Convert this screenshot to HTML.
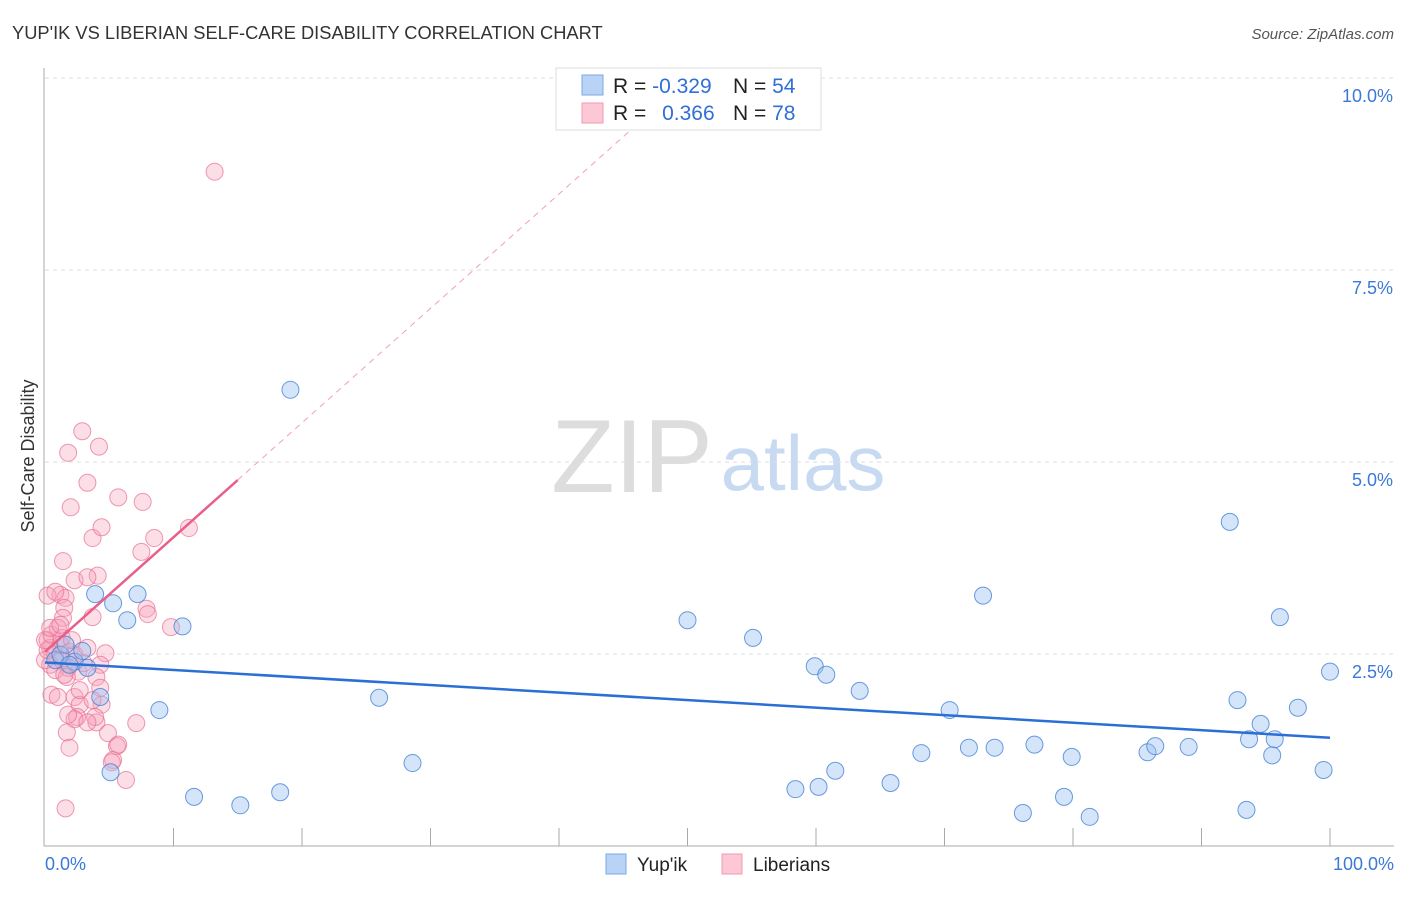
<!DOCTYPE html>
<html><head><meta charset="utf-8"><style>
body{margin:0;background:#fff;font-family:"Liberation Sans",sans-serif;}
svg text{font-family:"Liberation Sans",sans-serif;}
</style></head><body>
<svg id="chart" width="1406" height="892" xmlns="http://www.w3.org/2000/svg">
<text x="12" y="39" font-size="18.3" fill="#333">YUP'IK VS LIBERIAN SELF-CARE DISABILITY CORRELATION CHART</text>
<text x="1394" y="39" font-size="15" fill="#555" font-style="italic" text-anchor="end">Source: ZipAtlas.com</text>
<text x="0" y="0" transform="translate(34,456) rotate(-90)" font-size="18" fill="#333" text-anchor="middle">Self-Care Disability</text>
<g>
<text x="632" y="492" font-size="104" font-family="Liberation Serif,serif" fill="#ddd" text-anchor="middle">ZIP</text>
<text x="803" y="490" font-size="78" fill="#c8daf2" text-anchor="middle">atlas</text>
</g>
<g id="grid"></g>
<g id="axes"></g>
<g id="pts"></g>
<g id="trend"></g>
<g>
<rect x="556" y="68" width="265" height="62" fill="#fff" stroke="#ddd"/>
<rect x="582" y="75" width="21" height="20" fill="#b8d3f5" stroke="#7aa8e6"/>
<rect x="582" y="103" width="21" height="20" fill="#fcc8d6" stroke="#ef9ab2"/>
<text x="613" y="93" font-size="21" fill="#222">R = <tspan fill="#2f6fd6">-0.329</tspan></text>
<text x="733" y="93" font-size="21" fill="#222">N = <tspan fill="#2f6fd6">54</tspan></text>
<text x="613" y="120" font-size="21" fill="#222">R = <tspan fill="#2f6fd6" dx="10">0.366</tspan></text>
<text x="733" y="120" font-size="21" fill="#222">N = <tspan fill="#2f6fd6">78</tspan></text>
</g>
<g>
<rect x="606" y="854" width="20" height="20" fill="#b8d3f5" stroke="#7aa8e6"/>
<text x="637" y="871" font-size="19" fill="#222">Yup'ik</text>
<rect x="722" y="854" width="20" height="20" fill="#fcc8d6" stroke="#ef9ab2"/>
<text x="753" y="871" font-size="19" fill="#222">Liberians</text>
</g>
</svg>
<script>
const yupikX=[19.1,3.9,5.3,6.4,7.2,10.7,2.3,2.9,3.3,4.3,8.9,5.1,11.6,15.2,18.3,26.0,28.6,50.0,55.1,59.9,60.8,63.4,70.4,73.0,68.2,71.9,73.9,77.0,79.9,61.5,58.4,60.2,65.8,76.1,79.3,81.3,85.8,86.4,89.0,92.2,92.8,94.6,96.1,95.7,93.7,95.5,97.5,100,99.5,93.5,0.8,1.2,1.6,1.9];
const yupikY=[5.94,3.28,3.16,2.94,3.28,2.86,2.40,2.54,2.32,1.94,1.77,0.96,0.64,0.53,0.70,1.93,1.08,2.94,2.71,2.34,2.23,2.02,1.77,3.26,1.21,1.28,1.28,1.32,1.16,0.98,0.74,0.77,0.82,0.43,0.64,0.38,1.22,1.30,1.29,4.22,1.90,1.59,2.98,1.39,1.39,1.18,1.80,2.27,0.99,0.47,2.42,2.49,2.62,2.36];
const libX=[2.9,1.8,4.2,3.3,2.0,5.7,7.6,3.7,4.4,8.5,7.5,1.4,2.3,4.1,3.3,1.2,1.6,1.5,1.4,3.7,7.9,8.0,9.8,11.2,13.2,0.2,0.8,0.2,0.4,0.8,1.2,1.3,1.9,2.3,4.7,0.4,0.8,1.3,1.8,2.6,4.3,0.5,1.0,2.3,1.7,4.0,4.3,2.7,4.4,2.5,2.3,4.0,3.9,1.7,3.3,4.9,5.6,1.9,5.3,5.2,6.3,1.6,7.1,0.0,0.2,0.5,1.0,3.3,2.1,3.0,3.7,1.5,2.7,1.8,5.7,0.0,0.4,1.2];
const libY=[5.40,5.12,5.20,4.73,4.41,4.54,4.48,4.01,4.15,4.01,3.83,3.71,3.46,3.52,3.50,3.27,3.23,3.10,2.97,2.98,3.09,3.02,2.85,4.14,8.78,3.26,3.31,2.68,2.58,2.49,2.62,2.71,2.53,2.49,2.51,2.36,2.29,2.42,2.32,2.27,2.36,1.97,1.94,1.94,2.20,2.20,2.06,1.84,1.84,1.68,1.65,1.61,1.68,1.48,1.61,1.47,1.30,1.28,1.12,1.09,0.86,0.49,1.60,2.42,2.55,2.75,2.84,2.58,2.68,2.38,1.90,2.23,2.03,1.71,1.32,2.68,2.84,2.88];
const yTicks=[2.5,5.0,7.5,10.0];
const yTickLabels=["2.5%","5.0%","7.5%","10.0%"];
const xTickLabels=["0.0%","100.0%"];
const blueTrend=[2.39,1.41];
const pinkTrend=[2.53,0.149];
const NS="http://www.w3.org/2000/svg";
const sx=v=>45+v*12.85, sy=v=>846-v*76.8;
function mk(tag,attrs,parent){const e=document.createElementNS(NS,tag);for(const k in attrs)e.setAttribute(k,attrs[k]);document.getElementById(parent).appendChild(e);return e;}
yTicks.forEach((t,i)=>{
 const l=mk('line',{x1:45,x2:1394,y1:sy(t),y2:sy(t),stroke:'#ddd','stroke-dasharray':'4,4'},'grid');
 
 
 const tx=mk('text',{x:1393,y:sy(t)+24,'font-size':18,fill:'#3b78d8','text-anchor':'end'},'grid');
 tx.textContent=yTickLabels[i];
 
 
});
let a=mk('line',{x1:44,x2:44,y1:68,y2:846,stroke:'#aaa'},'axes');


a=mk('line',{x1:44,x2:1394,y1:846,y2:846,stroke:'#aaa'},'axes');


for(let i=1;i<=10;i++){const t=mk('line',{x1:sx(i*10),x2:sx(i*10),y1:828,y2:846,stroke:'#aaa'},'axes');
 
 }
[[0,'start',45],[100,'end',1394]].forEach((d,i)=>{const t=mk('text',{x:d[2],y:870,'font-size':18,fill:'#3b78d8','text-anchor':d[1]},'axes');t.textContent=xTickLabels[i];
 
 });
libX.forEach((x,i)=>{const c=mk('circle',{cx:sx(x),cy:sy(libY[i]),r:8.5,fill:'rgba(247,160,185,0.35)',stroke:'rgba(232,110,145,0.7)','stroke-width':1},'pts');
 
 });
yupikX.forEach((x,i)=>{const c=mk('circle',{cx:sx(x),cy:sy(yupikY[i]),r:8.5,fill:'rgba(150,190,240,0.4)',stroke:'rgba(70,130,215,0.8)','stroke-width':1},'pts');
 
 });
let t=mk('line',{x1:sx(0),y1:sy(blueTrend[0]),x2:sx(100),y2:sy(blueTrend[1]),stroke:'#2a6fd6','stroke-width':2.5},'trend');


t=mk('line',{x1:sx(0),y1:sy(pinkTrend[0]),x2:sx(15),y2:sy(pinkTrend[0]+15*pinkTrend[1]),stroke:'#e8608a','stroke-width':2.5},'trend');


const xe=(10-pinkTrend[0])/pinkTrend[1];
t=mk('line',{x1:sx(15),y1:sy(pinkTrend[0]+15*pinkTrend[1]),x2:sx(xe),y2:sy(10),stroke:'#f0a0b8','stroke-width':1,'stroke-dasharray':'6,5'},'trend');


</script>
</body></html>
